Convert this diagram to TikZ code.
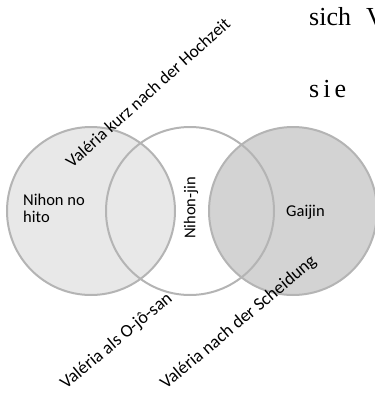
\documentclass[tikz,border=0pt]{standalone}
\usepackage{fontspec}
\setmainfont{Liberation Serif}
\newfontfamily\lblfont{Carlito}
\definecolor{lightfill}{HTML}{E8E8E8}
\definecolor{darkfill}{HTML}{D3D3D3}
\definecolor{ringcol}{HTML}{B4B4B4}
\begin{document}
\begin{tikzpicture}[x=1pt,y=-1pt,
  ring/.style={draw=ringcol,line width=2pt},
  lbl/.style={font=\lblfont\fontsize{16.5}{17}\selectfont,inner sep=0pt,text=black},
  diag/.style={font=\lblfont\fontsize{18}{19}\selectfont,inner sep=0pt,anchor=base west,rotate=40},
  serif/.style={font=\fontsize{26}{28}\selectfont,inner sep=0pt,anchor=base west}]
\useasboundingbox (0,0) rectangle (375,397);
\clip (0,0) rectangle (375,397);
% circles
\coordinate (cl) at (91,211);
\coordinate (cm) at (190,211);
\coordinate (cr) at (293,211);
\fill[lightfill] (cl) circle[radius=84];
\fill[darkfill] (cr) circle[radius=84];
\draw[ring] (cl) circle[radius=84];
\draw[ring] (cm) circle[radius=84];
\draw[ring] (cr) circle[radius=84];
% labels
\node[lbl,align=left,anchor=base west] (nnh) at (23,222) {Nihon no\\hito};
\node[lbl,rotate=90,anchor=center] (nj) at (191,208) {Nihon-jin};
\node[lbl,anchor=base west] (gj) at (286,216) {Gaijin};
\node[diag,rotate=2,font=\lblfont\fontsize{17.5}{18}\selectfont] (v1) at (72,169) {Valéria kurz nach der Hochzeit};
\node[diag] (v2) at (66,390) {Valéria als O-jô-san};
\node[diag] (v3) at (166,390) {Valéria nach der Scheidung};
% serif text at the top right
\node[serif] (t1) at (309,25) {sich\hspace{15pt}V};
\node[serif] (t2) at (309,97) {s\hspace{4pt}i\hspace{4pt}e};
\end{tikzpicture}
\end{document}
